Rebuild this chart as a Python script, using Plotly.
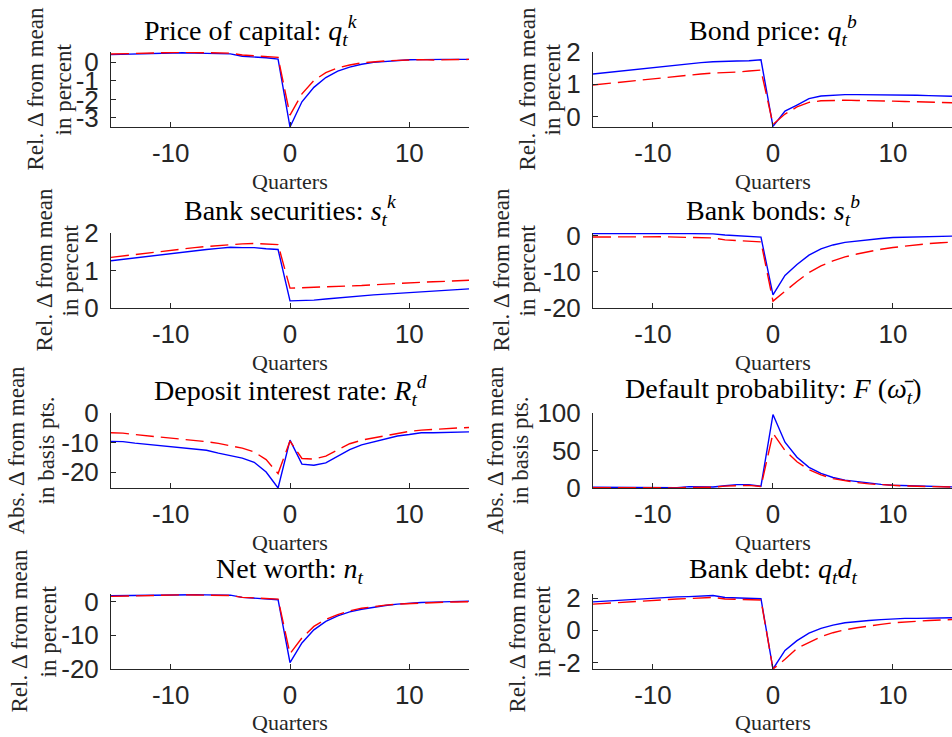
import plotly.graph_objects as go

# ---------------- data ----------------
quarters = list(range(-15, 16))

titles = [
    "Price of capital: <i>q</i><sub><i>t</i></sub><sup><i>k</i></sup>",
    "Bond price: <i>q</i><sub><i>t</i></sub><sup><i>b</i></sup>",
    "Bank securities: <i>s</i><sub><i>t</i></sub><sup><i>k</i></sup>",
    "Bank bonds: <i>s</i><sub><i>t</i></sub><sup><i>b</i></sup>",
    "Deposit interest rate: <i>R</i><sub><i>t</i></sub><sup><i>d</i></sup>",
    "Default probability: <i>F</i> (<i>ω̄</i><sub><i>t</i></sub>)",
    "Net worth: <i>n</i><sub><i>t</i></sub>",
    "Bank debt: <i>q</i><sub><i>t</i></sub><i>d</i><sub><i>t</i></sub>",
]
ylabel_line1 = ["Rel. Δ from mean", "Rel. Δ from mean", "Rel. Δ from mean", "Rel. Δ from mean",
                "Abs. Δ from mean", "Abs. Δ from mean", "Rel. Δ from mean", "Rel. Δ from mean"]
ylabel_line2 = ["in percent", "in percent", "in percent", "in percent",
                "in basis pts.", "in basis pts.", "in percent", "in percent"]
xlabel = "Quarters"

x_tickvals = [-10, 0, 10]
x_ticktext = ["-10", "0", "10"]

y_tickvals = [[-3, -2, -1, 0], [0, 1, 2], [0, 1, 2], [-20, -10, 0],
              [-20, -10, 0], [0, 50, 100], [-20, -10, 0], [-2, 0, 2]]
y_ticktext = [["-3", "-2", "-1", "0"], ["0", "1", "2"], ["0", "1", "2"], ["-20", "-10", "0"],
              ["-20", "-10", "0"], ["0", "50", "100"], ["-20", "-10", "0"], ["-2", "0", "2"]]
y_ranges = [[-3.49, 0.56], [-0.32, 2.0], [0, 2], [-20, 0.7],
            [-25.4, 0], [0, 100], [-20, 2.2], [-2.4, 2.25]]

price_capital_blue = [0.42, 0.44, 0.46, 0.48, 0.50, 0.51, 0.52, 0.50, 0.48, 0.47, 0.46, 0.33, 0.30, 0.25, 0.18,
                      -3.49, -2.13, -1.35, -0.82, -0.47, -0.26, -0.10, 0.00, 0.06, 0.10, 0.14, 0.15, 0.14, 0.16, 0.16, 0.16]
price_capital_red = [0.45, 0.47, 0.49, 0.51, 0.53, 0.54, 0.55, 0.53, 0.52, 0.51, 0.50, 0.40, 0.36, 0.31, 0.27,
                     -2.85, -1.70, -0.98, -0.55, -0.30, -0.14, -0.03, 0.04, 0.08, 0.11, 0.14, 0.15, 0.13, 0.15, 0.16, 0.16]

bond_price_blue = [1.32, 1.36, 1.40, 1.45, 1.49, 1.53, 1.57, 1.61, 1.64, 1.67, 1.70, 1.70, 1.72, 1.73, 1.76,
                   -0.30, 0.17, 0.36, 0.56, 0.64, 0.67, 0.68, 0.68, 0.68, 0.67, 0.68, 0.67, 0.66, 0.65, 0.64, 0.63]
bond_price_red = [0.98, 1.02, 1.06, 1.10, 1.14, 1.18, 1.22, 1.26, 1.29, 1.32, 1.35, 1.36, 1.38, 1.41, 1.44,
                  -0.24, 0.08, 0.30, 0.44, 0.49, 0.51, 0.51, 0.50, 0.50, 0.49, 0.48, 0.47, 0.46, 0.45, 0.44, 0.43]

securities_blue = [1.26, 1.30, 1.34, 1.38, 1.42, 1.46, 1.50, 1.53, 1.56, 1.59, 1.62, 1.61, 1.61, 1.58, 1.56,
                   0.19, 0.20, 0.21, 0.24, 0.27, 0.30, 0.32, 0.35, 0.37, 0.39, 0.42, 0.44, 0.46, 0.47, 0.49, 0.51]
securities_red = [1.35, 1.39, 1.43, 1.47, 1.51, 1.54, 1.58, 1.61, 1.64, 1.67, 1.70, 1.71, 1.72, 1.70, 1.69,
                  0.53, 0.54, 0.55, 0.56, 0.57, 0.59, 0.60, 0.62, 0.64, 0.66, 0.67, 0.69, 0.70, 0.71, 0.73, 0.74]

bank_bonds_blue = [0.55, 0.58, 0.62, 0.65, 0.68, 0.70, 0.70, 0.62, 0.52, 0.47, 0.45, 0.15, -0.05, -0.25, -0.45,
                   -16.4, -11.0, -8.0, -5.4, -3.7, -2.6, -1.9, -1.5, -1.1, -0.8, -0.55, -0.5, -0.45, -0.35, -0.25, -0.15]
bank_bonds_red = [-0.40, -0.38, -0.35, -0.33, -0.32, -0.32, -0.35, -0.45, -0.55, -0.60, -0.65, -1.2, -1.4, -1.6, -1.75,
                  -18.1, -15.3, -12.7, -10.2, -8.4, -7.0, -5.9, -5.1, -4.4, -3.8, -3.3, -2.9, -2.5, -2.2, -2.0, -1.8]

deposit_rate_blue = [-9.6, -9.7, -10.2, -10.6, -11.0, -11.3, -11.6, -12.0, -12.6, -13.6, -14.4, -15.3, -16.7, -20.0, -25.4,
                     -9.2, -17.3, -17.7, -16.9, -14.6, -12.4, -10.8, -9.8, -9.0, -7.8, -7.3, -6.7, -6.7, -6.6, -6.4, -6.4]
deposit_rate_red = [-6.7, -6.8, -7.3, -7.7, -8.1, -8.4, -8.8, -9.2, -9.7, -10.3, -11.0, -11.9, -13.2, -15.8, -20.5,
                    -9.5, -15.4, -15.6, -14.6, -12.4, -10.4, -9.2, -8.4, -7.6, -6.9, -6.2, -5.8, -5.5, -5.3, -5.1, -4.9]

default_prob_blue = [1.0, 0.8, 0.6, 0.5, 0.4, 0.3, 0.3, 0.5, 1.8, 1.5, 1.3, 3.0, 4.5, 4.5, 2.5,
                     98, 61, 41, 27.5, 19.5, 14, 10.5, 8.5, 6.2, 4.8, 3.6, 3.0, 2.6, 2.2, 1.8, 1.5]
default_prob_red = [0.5, 0.4, 0.3, 0.2, 0.1, 0.1, 0.1, 0.2, 0.8, 0.9, 1.0, 2.5, 3.5, 3.5, 2.0,
                    73, 50, 35, 24.5, 17.5, 12.5, 9.5, 7.3, 5.5, 4.3, 3.3, 2.7, 2.3, 1.9, 1.5, 1.2]

net_worth_blue = [1.7, 1.75, 1.8, 1.9, 2.0, 2.05, 2.1, 2.0, 1.95, 1.9, 1.85, 1.2, 1.0, 0.8, 0.5,
                  -18.1, -12.3, -8.4, -5.9, -4.3, -3.1, -2.3, -1.7, -1.2, -0.8, -0.5, -0.3, -0.2, -0.05, 0.05, 0.1]
net_worth_red = [1.5, 1.6, 1.7, 1.75, 1.85, 1.9, 1.95, 1.9, 1.85, 1.8, 1.75, 1.2, 1.05, 0.9, 0.7,
                 -15.5, -10.8, -7.4, -5.3, -3.9, -2.8, -2.0, -1.5, -1.1, -0.8, -0.6, -0.4, -0.3, -0.2, -0.15, -0.1]

bank_debt_blue = [1.76, 1.81, 1.86, 1.91, 1.95, 2.0, 2.03, 2.07, 2.09, 2.12, 2.16, 2.03, 2.02, 1.99, 1.96,
                  -2.4, -1.25, -0.64, -0.18, 0.12, 0.32, 0.47, 0.55, 0.61, 0.66, 0.72, 0.74, 0.74, 0.75, 0.77, 0.78]
bank_debt_red = [1.62, 1.67, 1.72, 1.77, 1.81, 1.86, 1.90, 1.94, 1.97, 2.00, 2.04, 1.94, 1.93, 1.90, 1.88,
                 -2.4, -1.8, -1.12, -0.74, -0.40, -0.15, 0.03, 0.16, 0.28, 0.37, 0.46, 0.52, 0.57, 0.61, 0.64, 0.67]

blue_series = [price_capital_blue, bond_price_blue, securities_blue, bank_bonds_blue,
               deposit_rate_blue, default_prob_blue, net_worth_blue, bank_debt_blue]
red_series = [price_capital_red, bond_price_red, securities_red, bank_bonds_red,
              deposit_rate_red, default_prob_red, net_worth_red, bank_debt_red]

# ---------------- layout geometry (screen pixels) ----------------
W, H = 952, 737
col_x = [(111, 469), (593, 952)]
row_y = [(52, 127), (233, 308), (413, 488), (594, 669)]
title_x = [250, 773, 290, 773, 290, 773, 290, 773]
title_y = [30, 210, 390, 570]
quarters_y = [181, 362, 542, 722]
ylab1_x = [35, 527, 44, 501, 16, 495, 19, 517]
ylab2_x = [63, 552, 70, 527, 46, 520, 48, 542]

AX = "#262626"
SERIF = "Liberation Serif"
SANS = "Liberation Sans"


def fx(px):
    return px / W


def fy(py):
    return 1 - py / H


fig = go.Figure()
layout = dict(template="none", width=W, height=H, margin=dict(l=0, r=0, t=0, b=0, pad=0),
              paper_bgcolor="white", plot_bgcolor="white", showlegend=False)
annotations = []

for i in range(8):
    r, c = divmod(i, 2)
    n = "" if i == 0 else str(i + 1)
    x0, x1 = col_x[c]
    y0, y1 = row_y[r]
    fig.add_trace(go.Scatter(x=quarters, y=blue_series[i], mode="lines",
                             line=dict(color="#0000FF", width=1.4),
                             xaxis="x" + n, yaxis="y" + n))
    fig.add_trace(go.Scatter(x=quarters, y=red_series[i], mode="lines",
                             line=dict(color="#FF0000", width=1.4, dash="18px,7px"),
                             xaxis="x" + n, yaxis="y" + n))
    layout["xaxis" + n] = dict(
        domain=[fx(x0), fx(x1)], range=[-15, 15 if c == 0 else 14.92], anchor="y" + n, automargin=False,
        tickvals=x_tickvals, ticktext=x_ticktext, ticks="inside", ticklen=5,
        tickcolor=AX, showline=True, linecolor=AX, linewidth=1, showgrid=False,
        zeroline=False, tickfont=dict(family=SANS, size=26, color=AX),
        ticklabelstandoff=3)
    layout["yaxis" + n] = dict(
        domain=[fy(y1), fy(y0)], range=y_ranges[i], anchor="x" + n, automargin=False,
        tickvals=y_tickvals[i], ticktext=y_ticktext[i], ticks="inside", ticklen=5,
        tickcolor=AX, showline=True, linecolor=AX, linewidth=1, showgrid=False,
        zeroline=False, tickfont=dict(family=SANS, size=26, color=AX),
        ticklabelstandoff=6)
    yc = (y0 + y1) / 2
    annotations.append(dict(text=titles[i], x=fx(title_x[i]), y=fy(title_y[r]),
                            xref="paper", yref="paper", xanchor="center", yanchor="middle",
                            showarrow=False, font=dict(family=SERIF, size=28, color="black")))
    annotations.append(dict(text=xlabel, x=fx(290 if c == 0 else 773),
                            y=fy(quarters_y[r]),
                            xref="paper", yref="paper", xanchor="center", yanchor="middle",
                            showarrow=False, font=dict(family=SERIF, size=22, color=AX)))
    annotations.append(dict(text=ylabel_line1[i], x=fx(ylab1_x[i]), y=fy(yc), textangle=-90,
                            xref="paper", yref="paper", xanchor="center", yanchor="middle",
                            showarrow=False, font=dict(family=SERIF, size=23, color=AX)))
    annotations.append(dict(text=ylabel_line2[i], x=fx(ylab2_x[i]), y=fy(yc), textangle=-90,
                            xref="paper", yref="paper", xanchor="center", yanchor="middle",
                            showarrow=False, font=dict(family=SERIF, size=23, color=AX)))

layout["annotations"] = annotations
fig.update_layout(**layout)
fig.write_html("out.html", config={"displayModeBar": False},
               post_script="document.body.style.margin='0px';")
